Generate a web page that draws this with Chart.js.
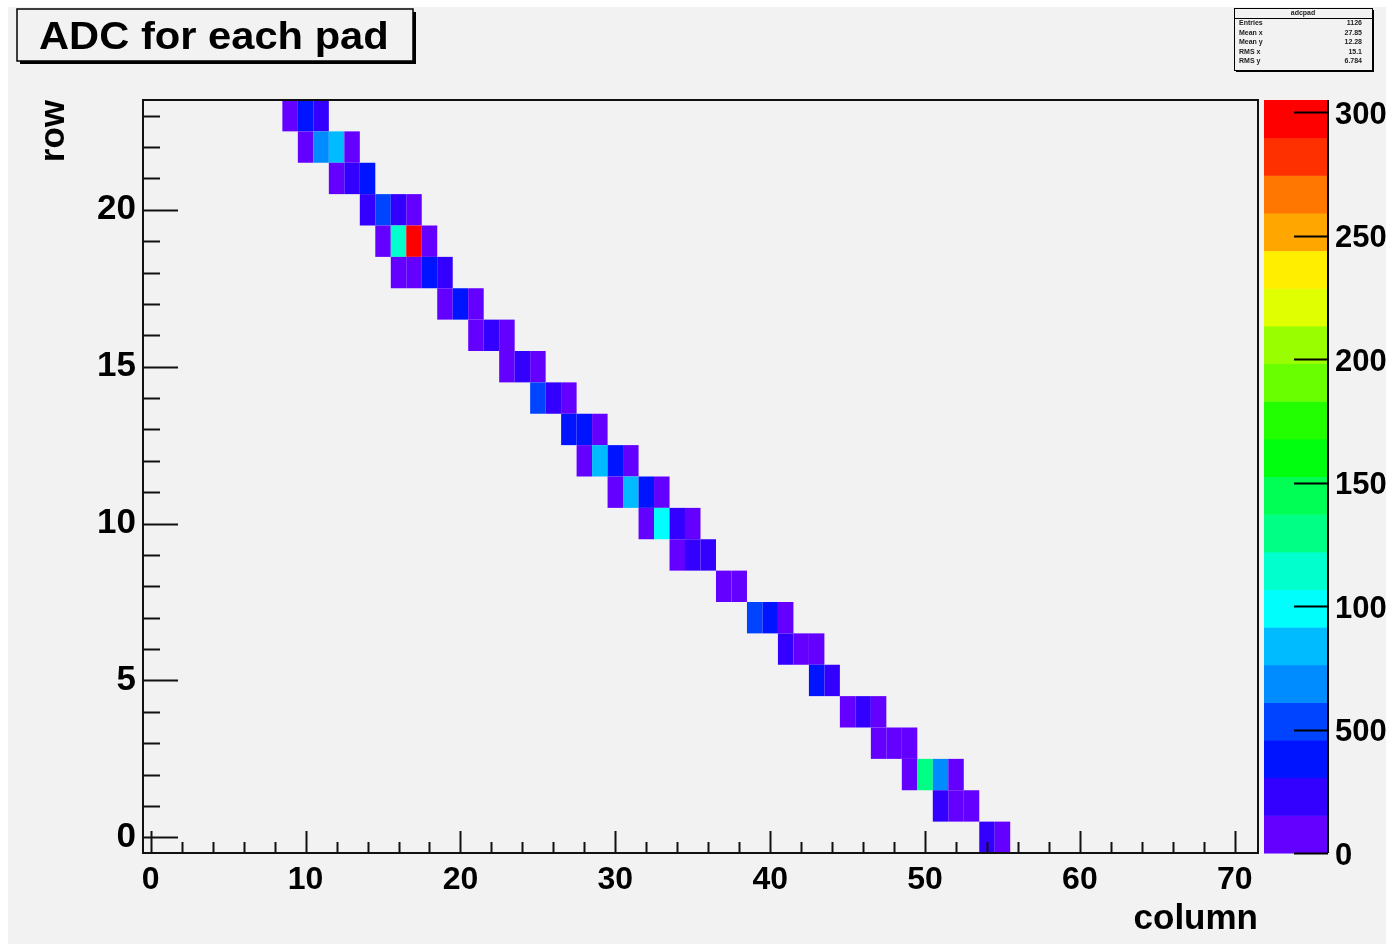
<!DOCTYPE html>
<html>
<head>
<meta charset="utf-8">
<script src="https://cdn.jsdelivr.net/npm/chart.js@4/dist/chart.umd.min.js"></script>
<style>
  html, body { margin: 0; padding: 0; background: #ffffff; }
  canvas { display: block; }
</style>
</head>
<body>
<canvas id="c" width="1386" height="944"></canvas>
<script>
// ---- data ----
const chartTitle = 'ADC for each pad';
const xTitle = 'column';
const yTitle = 'row';
const xRange = [-0.5, 71.5];
const yRange = [-0.5, 23.5];
const zRange = [0, 3049];
const xTicks = [0, 10, 20, 30, 40, 50, 60, 70];
const yTicks = [0, 5, 10, 15, 20];
const zTicks = [0, 500, 1000, 1500, 2000, 2500, 3000];

const cellCol = [
  9, 10, 11,
  10, 11, 12, 13,
  12, 13, 14,
  14, 15, 16, 17,
  15, 16, 17, 18,
  16, 17, 18, 19,
  19, 20, 21,
  21, 22, 23,
  23, 24, 25,
  25, 26, 27,
  27, 28, 29,
  28, 29, 30, 31,
  30, 31, 32, 33,
  32, 33, 34, 35,
  34, 35, 36,
  37, 38,
  39, 40, 41,
  41, 42, 43,
  43, 44,
  45, 46, 47,
  47, 48, 49,
  49, 50, 51, 52,
  51, 52, 53,
  54, 55
];
const cellRow = [
  23, 23, 23,
  22, 22, 22, 22,
  21, 21, 21,
  20, 20, 20, 20,
  19, 19, 19, 19,
  18, 18, 18, 18,
  17, 17, 17,
  16, 16, 16,
  15, 15, 15,
  14, 14, 14,
  13, 13, 13,
  12, 12, 12, 12,
  11, 11, 11, 11,
  10, 10, 10, 10,
  9, 9, 9,
  8, 8,
  7, 7, 7,
  6, 6, 6,
  5, 5,
  4, 4, 4,
  3, 3, 3,
  2, 2, 2, 2,
  1, 1, 1,
  0, 0
];
const cellAdc = [
  88, 352, 241,
  104, 671, 824, 97,
  122, 263, 398,
  228, 512, 274, 116,
  131, 1163, 3049, 109,
  126, 138, 371, 219,
  93, 346, 84,
  112, 256, 101,
  118, 247, 79,
  534, 281, 135,
  384, 412, 127,
  96, 856, 367, 121,
  108, 841, 402, 89,
  133, 987, 238, 102,
  117, 269, 252,
  124, 111,
  497, 389, 129,
  233, 106, 92,
  359, 261,
  119, 244, 87,
  140, 114, 99,
  128, 1296, 703, 115,
  277, 132, 107,
  249, 121
];

const statLabels = ['Entries', 'Mean x', 'Mean y', 'RMS x', 'RMS y'];
const statValues = ['1126', '27.85', '12.28', '15.1', '6.784'];
const statTitle = 'adcpad';

// ROOT "pretty" palette, 20 contour levels
const palette = [
  '#6300ff', '#3300ff', '#0014ff', '#0044ff', '#008bff',
  '#00bbff', '#00fffc', '#00ffcc', '#00ff85', '#00ff55',
  '#00ff0e', '#22ff00', '#69ff00', '#99ff00', '#e0ff00',
  '#ffee00', '#ffa700', '#ff7700', '#ff3000', '#ff0000'
];

const FONT = "'Liberation Sans', Arial, Helvetica, sans-serif";

function levelColor(v) {
  const n = palette.length;
  let k = Math.floor((v - zRange[0]) / (zRange[1] - zRange[0]) * n);
  if (k < 0) k = 0;
  if (k > n - 1) k = n - 1;
  return palette[k];
}

const cells = cellCol.map((c, i) => ({ x: c, y: cellRow[i], v: cellAdc[i] }));

const rootPlugin = {
  id: 'rootStyle',
  beforeDraw(chart) {
    const { ctx, width, height } = chart;
    ctx.save();
    ctx.fillStyle = '#ffffff';
    ctx.fillRect(0, 0, width, height);
    ctx.fillStyle = '#f2f2f2';
    ctx.fillRect(8, 7, width - 8, height - 7);
    ctx.restore();
  },
  beforeDatasetsDraw(chart) {
    const { ctx } = chart;
    const xs = chart.scales.x, ys = chart.scales.y;
    ctx.save();
    chart.data.datasets[0].data.forEach(p => {
      const x0 = xs.getPixelForValue(p.x - 0.5);
      const x1 = xs.getPixelForValue(p.x + 0.5);
      const y0 = ys.getPixelForValue(p.y + 0.5);
      const y1 = ys.getPixelForValue(p.y - 0.5);
      ctx.fillStyle = levelColor(p.v);
      ctx.fillRect(x0, y0, x1 - x0, y1 - y0);
    });
    ctx.restore();
  },
  afterDraw(chart) {
    const { ctx, chartArea: a } = chart;
    const xs = chart.scales.x, ys = chart.scales.y, zs = chart.scales.z;
    ctx.save();

    // frame
    ctx.strokeStyle = '#111';
    ctx.lineWidth = 2;
    ctx.strokeRect(a.left, a.top, a.right - a.left, a.bottom - a.top);

    // x ticks (inside, upward)
    ctx.lineWidth = 2;
    ctx.beginPath();
    for (let v = 0; v <= 70; v += 2) {
      const px = Math.round(xs.getPixelForValue(v)) + 0.5;
      const len = (v % 10 === 0) ? 22 : 11;
      ctx.moveTo(px, a.bottom);
      ctx.lineTo(px, a.bottom - len);
    }
    ctx.stroke();

    // y ticks (inside, rightward)
    ctx.beginPath();
    for (let v = 0; v <= 23; v += 1) {
      const py = Math.round(ys.getPixelForValue(v)) + 0.5;
      const len = (v % 5 === 0) ? 35 : 17;
      ctx.moveTo(a.left, py);
      ctx.lineTo(a.left + len, py);
    }
    ctx.stroke();

    // colour bar
    const cbL = a.right + 6, cbR = a.right + 70;
    const n = palette.length;
    for (let k = 0; k < n; k++) {
      const vLo = zRange[0] + (zRange[1] - zRange[0]) * k / n;
      const vHi = zRange[0] + (zRange[1] - zRange[0]) * (k + 1) / n;
      const yTop = zs.getPixelForValue(vHi);
      const yBot = zs.getPixelForValue(vLo);
      ctx.fillStyle = palette[k];
      ctx.fillRect(cbL, yTop, cbR - cbL, yBot - yTop + 0.5);
    }
    ctx.strokeStyle = '#000';
    ctx.lineWidth = 2;
    ctx.beginPath();
    ctx.moveTo(cbR, zs.getPixelForValue(zRange[1]));
    ctx.lineTo(cbR, zs.getPixelForValue(zRange[0]));
    zTicks.forEach(v => {
      const py = Math.round(zs.getPixelForValue(v)) + 0.5;
      ctx.moveTo(cbR, py);
      ctx.lineTo(cbR - 34, py);
    });
    ctx.stroke();
    ctx.fillStyle = '#000';
    ctx.font = 'bold 31px ' + FONT;
    ctx.textAlign = 'left';
    ctx.textBaseline = 'middle';
    zTicks.forEach(v => {
      ctx.fillText(String(v), cbR + 7, zs.getPixelForValue(v) + 3);
    });

    // title box
    ctx.fillStyle = '#000';
    ctx.fillRect(20, 60, 396, 4);
    ctx.fillRect(412, 12, 4, 52);
    ctx.fillStyle = '#f2f2f2';
    ctx.fillRect(17, 9, 396, 52);
    ctx.strokeStyle = '#000';
    ctx.lineWidth = 1.5;
    ctx.strokeRect(17, 9, 396, 52);
    ctx.fillStyle = '#000';
    ctx.font = 'bold 38px ' + FONT;
    ctx.textAlign = 'left';
    ctx.textBaseline = 'alphabetic';
    ctx.save();
    ctx.translate(39, 49);
    ctx.scale(1.097, 1);
    ctx.fillText(chartTitle, 0, 0);
    ctx.restore();

    // stats box
    const sL = 1234, sT = 8, sW = 138, sH = 62;
    ctx.fillStyle = '#000';
    ctx.fillRect(sL + 2, sT + sH - 1, sW, 3);
    ctx.fillRect(sL + sW - 1, sT + 2, 3, sH);
    ctx.fillStyle = '#f2f2f2';
    ctx.fillRect(sL, sT, sW, sH);
    ctx.strokeStyle = '#000';
    ctx.lineWidth = 1;
    ctx.strokeRect(sL + 0.5, sT + 0.5, sW, sH);
    ctx.beginPath();
    ctx.moveTo(sL, sT + 10.5);
    ctx.lineTo(sL + sW, sT + 10.5);
    ctx.stroke();
    ctx.fillStyle = '#222';
    ctx.font = 'bold 7px ' + FONT;
    ctx.textAlign = 'center';
    ctx.textBaseline = 'middle';
    ctx.fillText(statTitle, sL + sW / 2, sT + 5);
    statLabels.forEach((lab, i) => {
      const yy = sT + 15 + i * 9.6;
      ctx.textAlign = 'left';
      ctx.fillText(lab, sL + 5, yy);
      ctx.textAlign = 'right';
      ctx.fillText(statValues[i], sL + sW - 10, yy);
    });

    ctx.restore();
  }
};

const xTickFont = { family: FONT, weight: 'bold', size: 32 };
const yTickFont = { family: FONT, weight: 'bold', size: 35 };
const titleFont = { family: FONT, weight: 'bold', size: 35 };

new Chart(document.getElementById('c'), {
  type: 'scatter',
  data: {
    datasets: [{
      label: 'ADC',
      data: cells,
      pointRadius: 0,
      pointHoverRadius: 0,
      backgroundColor: 'rgba(0,0,0,0)',
      borderColor: 'rgba(0,0,0,0)'
    }]
  },
  options: {
    responsive: false,
    animation: false,
    devicePixelRatio: 1,
    events: [],
    layout: { padding: { top: 100, right: 128, left: 0, bottom: 0 } },
    plugins: {
      legend: { display: false },
      tooltip: { enabled: false },
      title: { display: false }
    },
    scales: {
      x: {
        type: 'linear',
        position: 'bottom',
        min: xRange[0],
        max: xRange[1],
        afterBuildTicks: s => { s.ticks = xTicks.map(v => ({ value: v })); },
        afterFit: s => { s.height = 91; },
        grid: { display: false, drawTicks: false },
        border: { display: false },
        ticks: { color: '#000', font: xTickFont, padding: 8, autoSkip: false, maxRotation: 0, minRotation: 0 },
        title: { display: true, text: xTitle, align: 'end', color: '#000', font: titleFont, padding: { top: 0, bottom: 4 } }
      },
      y: {
        type: 'linear',
        position: 'left',
        min: yRange[0],
        max: yRange[1],
        afterBuildTicks: s => { s.ticks = yTicks.map(v => ({ value: v })); },
        afterFit: s => { s.width = 143; },
        grid: { display: false, drawTicks: false },
        border: { display: false },
        ticks: { color: '#000', font: yTickFont, padding: 7, autoSkip: false },
        title: { display: true, text: yTitle, align: 'end', color: '#000', font: titleFont, padding: { top: 33, bottom: 0 } }
      },
      z: {
        type: 'linear',
        position: 'right',
        display: false,
        min: zRange[0],
        max: zRange[1]
      }
    }
  },
  plugins: [rootPlugin]
});
</script>
</body>
</html>
